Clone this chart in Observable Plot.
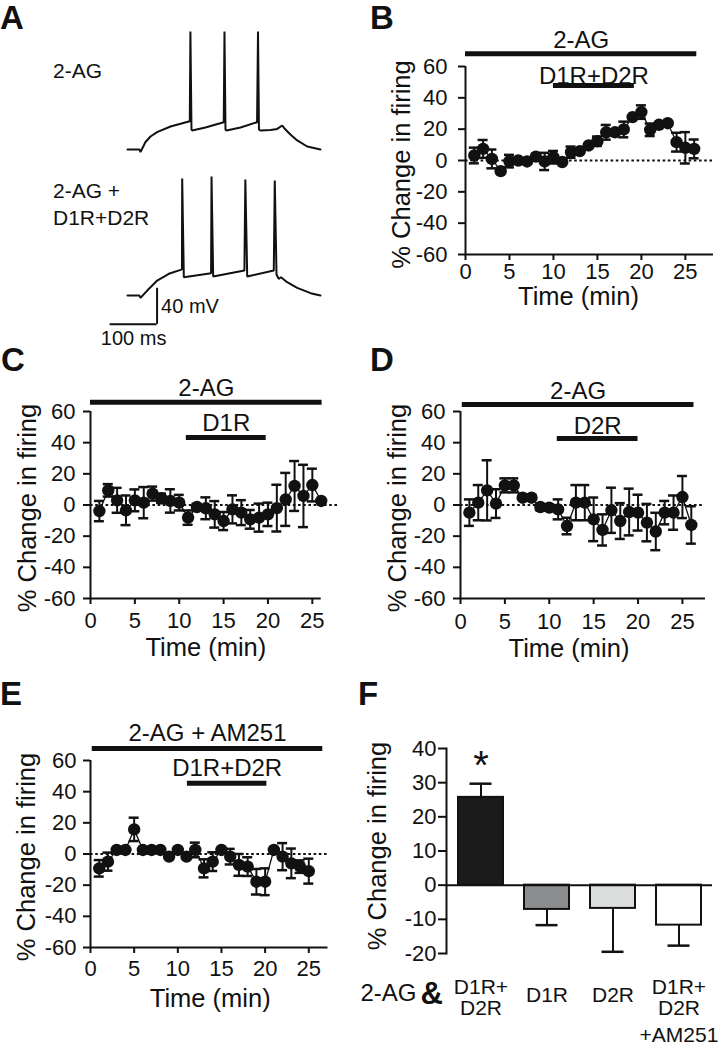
<!DOCTYPE html>
<html><head><meta charset="utf-8">
<script src="https://cdn.jsdelivr.net/npm/d3@7"></script>
<script src="https://cdn.jsdelivr.net/npm/@observablehq/plot@0.6"></script>
<style>
html,body{margin:0;padding:0;background:#fff;}
#fig{position:relative;width:719px;height:1050px;overflow:hidden;font-family:"Liberation Sans",Arial,Helvetica,sans-serif;color:#111;background:#fff;}
#fig svg{position:absolute;overflow:visible;background:transparent !important;}
.lbl{position:absolute;white-space:nowrap;line-height:1;color:#111;}
</style></head><body><div id="fig"></div>
<script>
// ---------------- DATA ----------------
// Panel A: membrane potential traces (time in ms, potential in mV)
const traceTopT = [0, 25.6, 27.7, 38, 49, 63, 91.6, 113, 132.7, 134, 136.3, 137.8, 166, 205, 206.6, 208.7, 211, 240.7, 276, 278, 280, 283, 304.6, 319, 329.5, 334.4, 347, 361.5, 382.8, 411];
const traceTopV = [-70, -70, -73, -62, -55.6, -50.8, -44.5, -41.5, -38.6, 61, -47.8, -49, -45.6, -39.7, 61, -47.8, -49, -45.6, -39.7, 61, -47.8, -49, -48.4, -47.2, -43.4, -46.7, -53.4, -60, -66.7, -70];
const traceBotT = [0, 25.6, 27.7, 42, 63.3, 88, 113, 116, 116.5, 120, 178, 179, 182.5, 249, 251, 255, 311.6, 313.7, 317.4, 322, 327, 340, 361.5, 390, 411];
const traceBotV = [-70, -70, -72.6, -64.5, -53.4, -45.9, -41.5, -40.6, 59.9, -49.7, -45.2, 62, -48.9, -42.3, 58.8, -48.9, -42.3, 57.7, -46.7, -51.5, -49.7, -55.2, -61.5, -67.4, -70];
const scaleBarMs = 100, scaleBarMv = 40, scaleBarCornerT = 63, scaleBarCornerV = -102;

// Panel B
const bTimes = [1,2,3,4,5,6,7,8,9,10,11,12,13,14,15,16,17,18,19,20,21,22,23,24,25,26];
const bValues = [3.2, 7.4, 1, -6.8, -0.4, 0, -0.6, 2.5, -0.6, 2.1, -1, 5.3, 6, 9.6, 12.3, 18, 18, 19.8, 27.7, 30.9, 19.6, 22.8, 23.8, 11.7, 8.1, 7.4];
const bErrors = [5, 5.7, 6, 0, 4, 0, 0, 0, 5.5, 4, 0, 3.6, 0, 0, 3, 4.7, 0, 5, 0, 4.3, 4, 0, 0, 6, 10, 6];
const bDrugs = [{label: "2-AG", start: 0, end: 26.3}, {label: "D1R+D2R", start: 10, end: 19.2}];

// Panel C
const cTimes = [1,2,3,4,5,6,7,8,9,10,11,12,13,14,15,16,17,18,19,20,21,22,23,24,25,26];
const cValues = [-3.9, 9.4, 3, -3.4, 3, 1.5, 7.3, 4.3, 2.6, 1.5, -8.1, -1.3, -2.1, -6, -10.3, -2.8, -4.9, -9.2, -8.1, -6, -2, 3.6, 12.2, 5.8, 12.8, 2.6];
const cErrors = [6.5, 4, 8, 9.5, 7, 10, 4.5, 3, 7.5, 5, 4.6, 2, 7, 8.5, 5.8, 9, 8, 6, 9, 7.5, 15, 17, 16, 20, 10.5, 0];
const cDrugs = [{label: "2-AG", start: 0, end: 26.1}, {label: "D1R", start: 10.8, end: 19.8}];

// Panel D
const dTimes = [1,2,3,4,5,6,7,8,9,10,11,12,13,14,15,16,17,18,19,20,21,22,23,24,25,26];
const dValues = [-4.9, 1.5, 9.4, 0.9, 12.6, 12.6, 4.7, 4.7, -1.3, -1.7, -2.8, -13.5, 1.5, 1.5, -9.2, -16, -3.4, -10.3, -4.5, -4.9, -11.3, -17, -4.9, -4.9, 5.1, -12.8];
const dErrors = [8.5, 11.3, 19.3, 9.2, 4.5, 4.5, 0, 0, 2, 2, 6.4, 5.3, 11.3, 11.3, 14, 10, 14.5, 11.5, 15, 11.5, 12, 12, 7.5, 11, 13.5, 12];
const dDrugs = [{label: "2-AG", start: 0.2, end: 26.3}, {label: "D2R", start: 10.9, end: 20}];

// Panel E
const eTimes = [1,2,3,4,5,6,7,8,9,10,11,12,13,14,15,16,17,18,19,20,21,22,23,24,25];
const eValues = [-9.2, -4.9, 2.6, 2.6, 15.8, 2.6, 2.6, 2.6, -1.7, 2.6, -1.7, 2.6, -9.2, -4.9, 2.6, -1.7, -7, -8.1, -17.8, -17.8, 2.6, -1.7, -6, -8.1, -11];
const eErrors = [5.3, 5.8, 0, 0, 7.5, 0, 0, 0, 0, 0, 0, 4.7, 5.8, 6, 0, 5, 7, 6, 8.2, 8.6, 0, 8.7, 9.5, 4, 8];
const eDrugs = [{label: "2-AG + AM251", start: 0.2, end: 26.6}, {label: "D1R+D2R", start: 11.1, end: 20.2}];

// Panel F
const fCats = ["D1R+D2R", "D1R", "D2R", "D1R+D2R+AM251"];
const fLabels = ["D1R+\nD2R", "D1R", "D2R", "D1R+\nD2R\n+AM251"];
const fValues = [25.7, -7.1, -6.8, -11.7];
const fErrors = [4.0, 4.6, 12.7, 6.0];
const fFills = ["#1b1b1b", "#8b8d8f", "#dcdddd", "#ffffff"];

const timeTicks = [0, 5, 10, 15, 20, 25];
const pctTicks = [-60, -40, -20, 0, 20, 40, 60];
const fTicks = [-20, -10, 0, 10, 20, 30, 40];
const yLabel = "% Change in firing";
const xLabel = "Time (min)";

// ---------------- RENDER ----------------
const FONT = '"Liberation Sans", Arial, Helvetica, sans-serif';
const INK = "#111";
const LAB = 25.5;
const fig = document.getElementById("fig");

function place(svg, left, top) {
  svg.style.left = left + "px";
  svg.style.top = top + "px";
  svg.style.background = "transparent";
  svg.style.maxWidth = "none";
  fig.appendChild(svg);
}

function tracePlot(T, V, yDomain, height, extra) {
  const data = T.map((t, i) => ({t, v: V[i]}));
  return Plot.plot({
    width: 360, height, margin: 0,
    style: {fontFamily: FONT, color: INK, background: "transparent"},
    x: {domain: [-270.5, 496.3], axis: null},
    y: {domain: yDomain, axis: null},
    marks: [
      Plot.line(data, {x: "t", y: "v", stroke: INK, strokeWidth: 2, strokeLinejoin: "miter"}),
      ...(extra || [])
    ]
  });
}

// A top
place(tracePlot(traceTopT, traceTopV, [-87.8, 95.4], 165), 0, 0);
// A bottom with scale bar
const sb = [{t1: scaleBarCornerT - scaleBarMs, t2: scaleBarCornerT, v1: scaleBarCornerV, v2: scaleBarCornerV + scaleBarMv}];
place(tracePlot(traceBotT, traceBotV, [-131, 74.3], 185, [
  Plot.ruleY(sb, {y: "v1", x1: "t1", x2: "t2", stroke: INK, strokeWidth: 2}),
  Plot.ruleX(sb, {x: "t2", y1: "v1", y2: "v2", stroke: INK, strokeWidth: 2}),
  Plot.text(sb, {x: "t2", y: d => (d.v1 + d.v2) / 2, text: () => `${scaleBarMv} mV`, textAnchor: "start", dx: 4, fontSize: 20, lineAnchor: "middle", fill: INK}),
  Plot.text(sb, {x: d => (d.t1 + d.t2) / 2, y: "v1", text: () => `${scaleBarMs} ms`, dy: 14, fontSize: 20, lineAnchor: "middle", fill: INK})
]), 0, 165);

function timePanel(cfg) {
  const data = cfg.times.map((t, i) => ({t, v: cfg.values[i], e: cfg.errors[i]}));
  const we = data.filter(d => d.e > 0);
  const marks = [
    Plot.ruleY([0], {x1: 0, x2: cfg.zeroEnd, stroke: INK, strokeWidth: 2, strokeDasharray: "2.6,2.6"}),
    Plot.ruleX([0], {stroke: INK, strokeWidth: 2}),
    Plot.ruleY([-60], {stroke: INK, strokeWidth: 2}),
    Plot.axisY({ticks: pctTicks, tickSize: 7, tickPadding: cfg.yPad, fontSize: 22, strokeWidth: 2, tickFormat: d => String(d), label: null, fill: INK}),
    Plot.axisX({ticks: timeTicks, tickSize: 6, tickPadding: cfg.xPad, fontSize: 22, strokeWidth: 2, tickFormat: d => String(d), label: null, fill: INK}),
    Plot.text([yLabel], {frameAnchor: "left", textAnchor: "middle", rotate: -90, dx: cfg.yLabDx, dy: cfg.yLabDy, fontSize: LAB, lineAnchor: "middle", fill: INK}),
    Plot.text([xLabel], {frameAnchor: "bottom", textAnchor: "middle", dx: cfg.xLabDx, dy: cfg.xLabDy, fontSize: LAB, lineAnchor: "middle", fill: INK}),
    Plot.line(data, {x: "t", y: "v", stroke: INK, strokeWidth: 1.3}),
    Plot.ruleX(we, {x: "t", y1: d => d.v - d.e, y2: d => d.v + d.e, stroke: INK, strokeWidth: 2}),
    Plot.ruleY(we, {y: d => d.v + d.e, x1: "t", x2: "t", insetLeft: -5, insetRight: -5, stroke: INK, strokeWidth: 2.5}),
    Plot.ruleY(we, {y: d => d.v - d.e, x1: "t", x2: "t", insetLeft: -5, insetRight: -5, stroke: INK, strokeWidth: 2.5}),
    Plot.dot(data, {x: "t", y: "v", r: 6.2, fill: INK, stroke: null})
  ];
  cfg.drugs.forEach((dr, j) => {
    marks.push(Plot.ruleY([dr], {y: () => 60, x1: "start", x2: "end", dy: cfg.barDy[j], stroke: INK, strokeWidth: 5}));
    marks.push(Plot.text([dr], {x: d => (d.start + d.end) / 2, y: () => 60, text: "label", dy: cfg.txtDy[j], fontSize: 24, lineAnchor: "middle", fill: INK}));
  });
  return Plot.plot({
    width: cfg.w, height: cfg.h,
    marginLeft: cfg.ml, marginRight: cfg.mr, marginTop: cfg.mt, marginBottom: cfg.mb,
    style: {fontFamily: FONT, color: INK, background: "transparent"},
    x: {domain: [0, cfg.xMax], label: null},
    y: {domain: [-60, 60], label: null},
    marks
  });
}

place(timePanel({times: bTimes, values: bValues, errors: bErrors, drugs: bDrugs,
  w: 359, h: 330, ml: 105, mr: 6, mt: 66, mb: 76, xMax: 28.2, zeroEnd: 28.2,
  yPad: 11, xPad: 3, yLabDx: -64, yLabDy: 4, xLabDx: -11, xLabDy: 42,
  barDy: [-12.7, 19], txtDy: [-26, 10]}), 360, 0);

place(timePanel({times: cTimes, values: cValues, errors: cErrors, drugs: cDrugs,
  w: 360, h: 330, ml: 90, mr: 39.3, mt: 81, mb: 62, xMax: 26, zeroEnd: 28,
  yPad: 8, xPad: 8, yLabDx: -62.5, yLabDy: 3, xLabDx: 0, xLabDy: 49.5,
  barDy: [-9.3, 26], txtDy: [-23.5, 11.5]}), 0, 330);

place(timePanel({times: dTimes, values: dValues, errors: dErrors, drugs: dDrugs,
  w: 359, h: 330, ml: 100, mr: 14, mt: 81, mb: 62, xMax: 27.6, zeroEnd: 27.4,
  yPad: 8, xPad: 9, yLabDx: -62.5, yLabDy: 3, xLabDx: -14, xLabDy: 50,
  barDy: [-7, 27], txtDy: [-20.5, 14.5]}), 360, 330);

place(timePanel({times: eTimes, values: eValues, errors: eErrors, drugs: eDrugs,
  w: 360, h: 390, ml: 90, mr: 32.5, mt: 100, mb: 103, xMax: 27.2, zeroEnd: 27.3,
  yPad: 7, xPad: 7, yLabDx: -64, yLabDy: 3, xLabDx: 1, xLabDy: 51,
  barDy: [-12, 22.7], txtDy: [-27, 8]}), 0, 660);

// Panel F
const fData = fCats.map((c, i) => ({cat: c, v: fValues[i], e: fErrors[i], end: fValues[i] + Math.sign(fValues[i]) * fErrors[i], lines: fLabels[i].split("\n"), idx: i}));
const fMulti = fData.filter(d => d.lines.length > 1);
const fSingle = fData.filter(d => d.lines.length === 1);
const fThird = fData.filter(d => d.lines.length > 2);
place(Plot.plot({
  width: 359, height: 390, marginLeft: 86, marginRight: 7, marginTop: 88, marginBottom: 97,
  style: {fontFamily: FONT, color: INK, background: "transparent"},
  x: {domain: fCats, paddingInner: 0.32, paddingOuter: 0.16, axis: null, label: null},
  y: {domain: [-20, 40], label: null},
  marks: [
    Plot.ruleX(fData, {x: "cat", y1: "v", y2: "end", stroke: INK, strokeWidth: 2}),
    Plot.tickY(fData, {x: "cat", y: "end", stroke: INK, strokeWidth: 2.5, insetLeft: 11.5, insetRight: 11.5}),
    Plot.barY(fData, {x: "cat", y: "v", fill: d => fFills[d.idx], stroke: INK, strokeWidth: 2}),
    Plot.ruleY([0], {stroke: INK, strokeWidth: 2}),
    Plot.frame({anchor: "left", stroke: INK, strokeWidth: 2}),
    Plot.axisY({ticks: fTicks, tickSize: 8, tickPadding: 2, fontSize: 22, strokeWidth: 2, tickFormat: d => String(d), label: null, fill: INK}),
    Plot.text([yLabel], {frameAnchor: "left", textAnchor: "middle", rotate: -90, dx: -68.5, dy: -5, fontSize: LAB, lineAnchor: "middle", fill: INK}),
    Plot.text([fData[0]], {x: "cat", y: "end", text: () => "*", fontSize: 40, dy: -18, lineAnchor: "middle", fill: INK}),
    Plot.text(fMulti, {x: "cat", frameAnchor: "bottom", textAnchor: "middle", text: d => d.lines.slice(0, 2).join("\n"), lineAnchor: "top", dy: 26, lineHeight: 1, fontSize: 21, fill: INK}),
    Plot.text(fSingle, {x: "cat", frameAnchor: "bottom", textAnchor: "middle", text: d => d.lines[0], lineAnchor: "middle", dy: 41.5, fontSize: 21, fill: INK}),
    Plot.text(fThird, {x: "cat", frameAnchor: "bottom", textAnchor: "middle", text: d => d.lines[2], lineAnchor: "top", dy: 74, fontSize: 21, fill: INK}),
    Plot.text(["2-AG"], {frameAnchor: "bottom-left", dx: -86, dy: 39.5, textAnchor: "start", lineAnchor: "middle", fontSize: 24, fill: INK}),
    Plot.text(["&"], {frameAnchor: "bottom-left", dx: -26, dy: 40.5, textAnchor: "start", lineAnchor: "middle", fontSize: 31, fontWeight: "bold", fill: INK})
  ]
}), 360, 660);

// HTML labels: panel letters and trace labels
function label(text, left, capTop, fs, bold) {
  const d = document.createElement("div");
  d.className = "lbl";
  d.textContent = text;
  d.style.left = left + "px";
  d.style.top = (capTop - 0.13 * fs) + "px";
  d.style.fontSize = fs + "px";
  if (bold) d.style.fontWeight = "bold";
  fig.appendChild(d);
}
[["A", 0, 5], ["B", 370, 5], ["C", 1, 347], ["D", 370, 347], ["E", 0, 681], ["F", 358, 681]].forEach(([t, x, y]) => label(t, x, y, 33, true));
label("2-AG", 53, 63, 21);
label("2-AG +", 53, 183, 21);
label("D1R+D2R", 53, 210, 21);
</script></body></html>
